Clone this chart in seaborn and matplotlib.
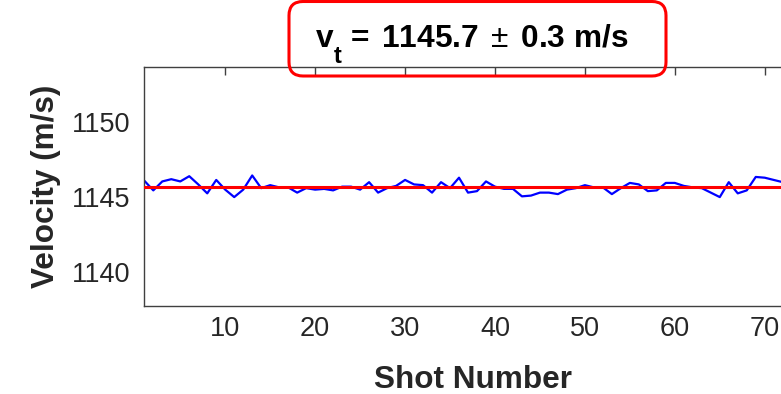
import matplotlib
matplotlib.use("Agg")
import matplotlib.pyplot as plt
from matplotlib.patches import FancyBboxPatch
from matplotlib.transforms import IdentityTransform
import numpy as np
import pandas as pd
import seaborn as sns

shots = list(range(1, 73))
velocity = [
    1146.10, 1145.45, 1146.05, 1146.20, 1146.05, 1146.40, 1145.85, 1145.25, 1146.15, 1145.50,
    1145.00, 1145.50, 1146.45, 1145.60, 1145.80, 1145.65, 1145.65, 1145.30, 1145.60, 1145.50,
    1145.55, 1145.45, 1145.70, 1145.70, 1145.50, 1146.00, 1145.30, 1145.60, 1145.75, 1146.15,
    1145.85, 1145.80, 1145.30, 1146.00, 1145.60, 1146.30, 1145.30, 1145.40, 1146.05, 1145.70,
    1145.55, 1145.55, 1145.05, 1145.10, 1145.30, 1145.30, 1145.20, 1145.50, 1145.60, 1145.80,
    1145.65, 1145.65, 1145.20, 1145.60, 1145.95, 1145.85, 1145.40, 1145.45, 1145.95, 1145.95,
    1145.75, 1145.65, 1145.60, 1145.30, 1145.00, 1146.00, 1145.25, 1145.45, 1146.35, 1146.30,
    1146.15, 1146.00,
]
mean_velocity = 1145.7
std_velocity = 0.3
x_ticks = [10, 20, 30, 40, 50, 60, 70]
y_ticks = [1140, 1145, 1150]

sns.set_style("white")
plt.rcParams["font.family"] = ["Liberation Sans", "DejaVu Sans"]
plt.rcParams["mathtext.fontset"] = "custom"
plt.rcParams["mathtext.rm"] = "Liberation Sans"
plt.rcParams["mathtext.bf"] = "Liberation Sans:bold"
plt.rcParams["mathtext.it"] = "Liberation Sans:italic"

W, H = 781, 394
fig = plt.figure(figsize=(W / 100, H / 100), dpi=100)
ax = fig.add_axes([144.3 / W, 88 / H, 656.4 / W, 238.7 / H])

df = pd.DataFrame({"Shot": shots, "Velocity": velocity})
sns.lineplot(data=df, x="Shot", y="Velocity", ax=ax, color="#0000FF", linewidth=1.6)
ax.axhline(mean_velocity, color="#FF0000", linewidth=2.2, zorder=3)

ax.set_xlim(1, 74)
ax.set_ylim(1137.7, 1153.7)
ax.set_xticks(x_ticks)
ax.set_yticks(y_ticks)

spine_col = "#404040"
for s in ax.spines.values():
    s.set_visible(True)
    s.set_color(spine_col)
    s.set_linewidth(1.0)

ax.tick_params(axis="both", direction="in", length=5.5, width=1.0, color=spine_col,
               labelsize=19.5, labelcolor="#262626", top=True, right=True)
ax.tick_params(axis="x", pad=7)
ax.tick_params(axis="y", pad=10)

ax.set_xlabel("Shot Number", fontsize=22.7, fontweight="bold", color="#262626", labelpad=17)
ax.set_ylabel("Velocity (m/s)", fontsize=22.7, fontweight="bold", color="#262626", labelpad=8)

# title box
box = FancyBboxPatch((289, 318), 377, 74.5,
                     boxstyle="round,pad=0,rounding_size=14",
                     transform=IdentityTransform(), facecolor="none",
                     edgecolor="#FF0000", linewidth=2.2, zorder=5)
fig.patches.append(box)

px = IdentityTransform()
base = H - 46.7
fig.text(316, base, "v", transform=px, ha="left", va="baseline",
         fontsize=22.8, fontweight="bold", color="black")
fig.text(333.5, H - 63, "t", transform=px, ha="left", va="baseline",
         fontsize=17, fontweight="bold", color="black")
rest = (r"$\mathbf{=\;%.1f}\;\pm\;\mathbf{%.1f\ m/s}$" % (mean_velocity, std_velocity))
fig.text(345, base, rest, transform=px, ha="left", va="baseline",
         fontsize=22.8, color="black")

fig.savefig("out.png", dpi=100)
